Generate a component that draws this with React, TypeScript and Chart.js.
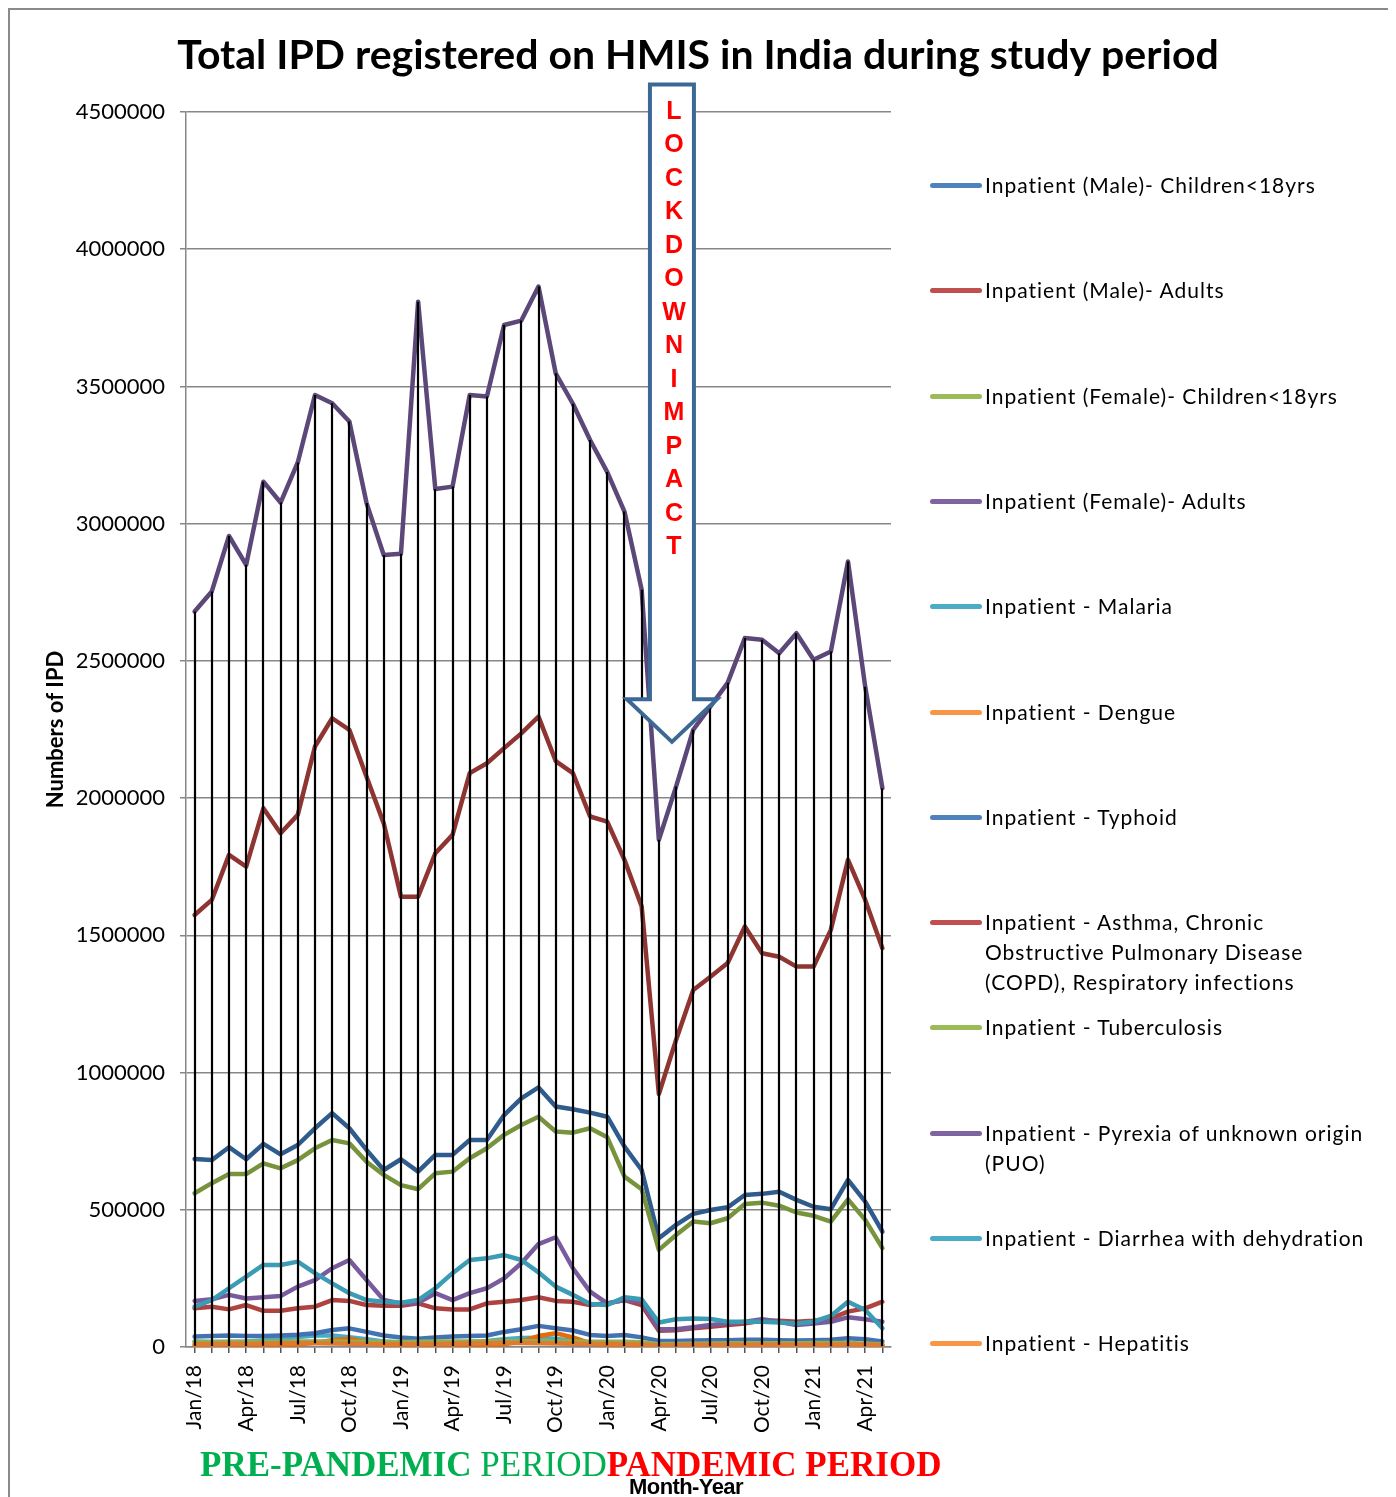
import React, { useEffect, useRef } from "react";
import { Chart, registerables } from "chart.js";

Chart.register(...registerables);

// ---------- DATA (values in thousands of IPD) ----------
const UNIT = 1000;

const months = [
  "Jan/18", "Feb/18", "Mar/18", "Apr/18", "May/18", "Jun/18", "Jul/18", "Aug/18", "Sep/18", "Oct/18", "Nov/18", "Dec/18",
  "Jan/19", "Feb/19", "Mar/19", "Apr/19", "May/19", "Jun/19", "Jul/19", "Aug/19", "Sep/19", "Oct/19", "Nov/19", "Dec/19",
  "Jan/20", "Feb/20", "Mar/20", "Apr/20", "May/20", "Jun/20", "Jul/20", "Aug/20", "Sep/20", "Oct/20", "Nov/20", "Dec/20",
  "Jan/21", "Feb/21", "Mar/21", "Apr/21", "May/21",
];

const maleChildren = [685, 681, 728, 684, 740, 702, 736, 797, 852, 797, 718, 645, 684, 639, 700, 700, 754, 754, 845, 906, 946,
  876, 866, 854, 839, 730, 645, 396, 445, 485, 499, 509, 554, 558, 566, 536, 511, 502, 609, 530, 420];
const maleAdults = [1574, 1629, 1793, 1750, 1963, 1872, 1939, 2188, 2291, 2249, 2078, 1908, 1641, 1641, 1799, 1866, 2091, 2127, 2182, 2236, 2297,
  2135, 2091, 1933, 1914, 1775, 1605, 922, 1119, 1301, 1349, 1399, 1532, 1435, 1422, 1386, 1386, 1520, 1775, 1629, 1453];
const femaleChildren = [560, 597, 630, 630, 669, 651, 681, 724, 754, 742, 675, 627, 590, 575, 633, 639, 688, 724, 773, 809, 839,
  785, 781, 797, 764, 621, 575, 354, 408, 457, 451, 469, 521, 526, 515, 490, 478, 457, 538, 463, 360];
const femaleAdults = [2680, 2753, 2955, 2850, 3153, 3077, 3223, 3469, 3439, 3372, 3075, 2886, 2890, 3809, 3126, 3135, 3469, 3463, 3724, 3740, 3864,
  3548, 3437, 3305, 3188, 3044, 2759, 1848, 2042, 2249, 2334, 2420, 2583, 2577, 2528, 2601, 2504, 2534, 2862, 2406, 2036];
const malaria = [20, 18, 18, 20, 24, 28, 36, 42, 42, 36, 28, 20, 16, 14, 14, 15, 18, 22, 28, 33, 34, 30, 22, 16,
  12, 11, 9, 5, 6, 8, 10, 12, 13, 12, 10, 8, 7, 6, 6, 5, 5];
const dengue = [5, 4, 4, 4, 5, 6, 9, 15, 25, 30, 18, 8, 5, 4, 4, 4, 5, 6, 10, 20, 40, 50, 35, 14,
  6, 4, 3, 2, 2, 2, 3, 4, 6, 9, 8, 5, 3, 3, 3, 3, 3];
const typhoid = [38, 40, 42, 40, 40, 42, 45, 50, 62, 68, 55, 42, 35, 30, 35, 38, 40, 42, 55, 65, 77,
  68, 60, 44, 40, 44, 35, 22, 22, 24, 25, 25, 26, 26, 25, 24, 25, 26, 32, 28, 20];
const asthmaCopd = [141, 147, 137, 153, 132, 132, 141, 147, 171, 168, 153, 150, 150, 159, 141, 137, 137, 159, 165, 171, 181,
  168, 165, 153, 159, 171, 153, 59, 61, 68, 74, 80, 86, 96, 96, 92, 96, 104, 129, 141, 165];
const tuberculosis = [18, 18, 19, 18, 19, 19, 20, 20, 20, 19, 19, 18, 18, 19, 20, 20, 20, 21, 21, 21, 21, 20, 20, 19,
  19, 19, 17, 10, 11, 12, 13, 14, 14, 14, 14, 14, 15, 15, 15, 12, 10];
const puo = [168, 174, 190, 177, 181, 186, 220, 244, 287, 317, 244, 171, 159, 161, 196, 171, 196, 214, 250, 305, 375,
  400, 287, 202, 159, 171, 165, 65, 65, 72, 80, 86, 92, 101, 92, 80, 86, 92, 108, 101, 92];
const diarrhea = [147, 171, 214, 256, 299, 299, 311, 269, 232, 196, 171, 165, 161, 171, 214, 269, 317, 323, 335, 317, 272,
  220, 190, 157, 153, 181, 174, 89, 101, 104, 102, 92, 92, 92, 89, 86, 92, 113, 165, 135, 68];
const hepatitis = [10, 10, 11, 11, 12, 13, 14, 14, 13, 12, 11, 10, 10, 10, 11, 12, 13, 14, 15, 15, 14, 13, 12, 11,
  11, 10, 9, 5, 6, 7, 8, 8, 8, 8, 8, 8, 8, 8, 9, 8, 6];

const seriesValues = [maleChildren, maleAdults, femaleChildren, femaleAdults, malaria, dengue, typhoid,
  asthmaCopd, tuberculosis, puo, diarrhea, hepatitis];

const seriesNames = [
  "Inpatient (Male)- Children<18yrs",
  "Inpatient (Male)- Adults",
  "Inpatient (Female)- Children<18yrs",
  "Inpatient (Female)- Adults",
  "Inpatient - Malaria",
  "Inpatient - Dengue",
  "Inpatient - Typhoid",
  "Inpatient - Asthma, Chronic Obstructive Pulmonary Disease (COPD), Respiratory infections",
  "Inpatient - Tuberculosis",
  "Inpatient - Pyrexia of unknown origin (PUO)",
  "Inpatient - Diarrhea with dehydration",
  "Inpatient - Hepatitis",
];

const legendLines = [
  ["Inpatient (Male)- Children<18yrs"],
  ["Inpatient (Male)- Adults"],
  ["Inpatient (Female)- Children<18yrs"],
  ["Inpatient (Female)- Adults"],
  ["Inpatient - Malaria"],
  ["Inpatient - Dengue"],
  ["Inpatient - Typhoid"],
  ["Inpatient - Asthma, Chronic", "Obstructive Pulmonary Disease", "(COPD), Respiratory infections"],
  ["Inpatient - Tuberculosis"],
  ["Inpatient - Pyrexia of unknown origin", "(PUO)"],
  ["Inpatient - Diarrhea with dehydration"],
  ["Inpatient - Hepatitis"],
];

const lineColors = ["#2F5C8D", "#8E3532", "#77933C", "#5C4779", "#4BACC6", "#E46C0A", "#4473B3",
  "#B0433F", "#8FB04F", "#7A5C9E", "#3A9DB5", "#E07A30"];
const legendColors = ["#4F81BD", "#C0504D", "#9BBB59", "#8064A2", "#4BACC6", "#F79646", "#4F81BD",
  "#C0504D", "#9BBB59", "#8064A2", "#4BACC6", "#F79646"];

const yTicks = { min: 0, max: 4500000, step: 500000 };
const labelEvery = 3;
const lockdownMonth = "Apr/20";
const lockdownText = "LOCKDOWNIMPACT";

const FONT = 'Lato, "Open Sans", sans-serif';

export default function App() {
  const ref = useRef<HTMLCanvasElement>(null);

  useEffect(() => {
    document.documentElement.style.overflow = "hidden";
    document.body.style.overflow = "hidden";
    const canvas = ref.current!;

    const dropLines = {
      id: "dropLines",
      afterDatasetsDraw(chart: any) {
        const { ctx } = chart;
        const x = chart.scales.x;
        const y = chart.scales.y;
        ctx.save();
        ctx.strokeStyle = "#000";
        ctx.lineWidth = 2.2;
        for (let i = 0; i < months.length; i++) {
          let hi = -Infinity;
          let lo = Infinity;
          chart.data.datasets.forEach((ds: any) => {
            const v = ds.data[i] as number;
            if (v > hi) hi = v;
            if (v < lo) lo = v;
          });
          const px = Math.round(x.getPixelForValue(i));
          ctx.beginPath();
          ctx.moveTo(px, y.getPixelForValue(hi));
          ctx.lineTo(px, y.getPixelForValue(lo));
          ctx.stroke();
        }
        ctx.restore();
      },
    };

    const lockdownArrow = {
      id: "lockdownArrow",
      afterDatasetsDraw(chart: any) {
        const { ctx } = chart;
        const x = chart.scales.x;
        const y = chart.scales.y;
        const idx = months.indexOf(lockdownMonth);
        const step = x.getPixelForValue(1) - x.getPixelForValue(0);
        const cx = x.getPixelForValue(idx) + 0.76 * step;
        const top = y.getPixelForValue(4600000);
        const base = y.getPixelForValue(2360000);
        const tip = y.getPixelForValue(2205000);
        const sw = 22;
        const hw = 45;
        ctx.save();
        ctx.beginPath();
        ctx.moveTo(cx - sw, top);
        ctx.lineTo(cx + sw, top);
        ctx.lineTo(cx + sw, base);
        ctx.lineTo(cx + hw, base);
        ctx.lineTo(cx, tip);
        ctx.lineTo(cx - hw, base);
        ctx.lineTo(cx - sw, base);
        ctx.closePath();
        ctx.fillStyle = "#fff";
        ctx.fill();
        ctx.lineWidth = 4;
        ctx.lineJoin = "miter";
        ctx.strokeStyle = "#3C6896";
        ctx.stroke();
        ctx.fillStyle = "#FF0000";
        ctx.font = 'bold 25px "Liberation Sans", Arial, sans-serif';
        ctx.textAlign = "center";
        ctx.textBaseline = "middle";
        const y0 = y.getPixelForValue(yTicks.max);
        lockdownText.split("").forEach((ch, k) => {
          ctx.fillText(ch, cx + 2, y0 + k * 33.5);
        });
        ctx.restore();
      },
    };

    const chart = new Chart(canvas, {
      type: "line",
      data: {
        labels: months,
        datasets: seriesValues.map((vals, i) => ({
          label: seriesNames[i],
          data: vals.map((v) => v * UNIT),
          borderColor: lineColors[i],
          backgroundColor: lineColors[i],
          borderWidth: 4.5,
          pointRadius: 0,
          tension: 0,
          borderCapStyle: "round",
          borderJoinStyle: "round",
          order: seriesValues.length - 1 - i,
          yAxisID: "y",
        })),
      },
      options: {
        responsive: false,
        animation: false,
        devicePixelRatio: 1,
        layout: { padding: 0 },
        plugins: {
          legend: { display: false },
          tooltip: { enabled: false },
          title: {
            display: true,
            text: "Total IPD registered on HMIS in India during study period",
            color: "#000",
            font: { family: FONT, weight: "bold", size: 41, lineHeight: 1.2 },
            padding: { top: 23, bottom: 31.8 },
          },
        },
        scales: {
          x: {
            type: "category",
            offset: true,
            grid: { drawOnChartArea: false, drawTicks: true, tickLength: 6, color: "#555", lineWidth: 1.5 },
            border: { display: true, color: "#878787", width: 1.5 },
            ticks: {
              autoSkip: false,
              maxRotation: 90,
              minRotation: 90,
              padding: 12,
              color: "#000",
              font: { family: FONT, size: 21 },
              callback: (_v: any, i: number) => (i % labelEvery === 0 ? months[i] : ""),
            },
            afterFit: (s: any) => {
              s.height = 150;
            },
          },
          y: {
            min: yTicks.min,
            max: yTicks.max,
            grid: { color: "#878787", lineWidth: 1.5, tickLength: 6 },
            border: { display: true, color: "#878787", width: 1.5 },
            ticks: {
              stepSize: yTicks.step,
              padding: 15,
              color: "#000",
              font: { family: FONT, size: 22 },
              callback: (v: any) => String(v),
            },
            title: {
              display: true,
              text: "Numbers of IPD",
              color: "#000",
              font: { family: FONT, weight: "bold", size: 22, lineHeight: 1.2 },
              padding: { top: 35, bottom: 0 },
            },
            afterFit: (s: any) => {
              s.width = 178;
            },
          },
          y2: {
            position: "right",
            display: true,
            grid: { display: false },
            border: { display: false },
            ticks: { display: false },
            afterFit: (s: any) => {
              s.width = 497;
            },
          },
        },
      },
      plugins: [dropLines, lockdownArrow],
    } as any);

    return () => chart.destroy();
  }, []);

  const legendTop = 162;
  const legendStep = 105.3;

  return (
    <div style={{ position: "relative", width: 1380, height: 1489, fontFamily: FONT, overflow: "hidden" }}>
      <canvas ref={ref} width={1380} height={1489} style={{ position: "absolute", left: 0, top: 0 }} />
      <div
        style={{
          position: "absolute",
          left: 0,
          top: 0,
          width: 1382,
          height: 1500,
          border: "2px solid #8a8a8a",
          boxSizing: "border-box",
          pointerEvents: "none",
        }}
      />
      {legendLines.map((lines, i) => (
        <div key={i} style={{ position: "absolute", left: 922, top: legendTop + legendStep * i }}>
          <div
            style={{
              position: "absolute",
              left: 0,
              top: 13,
              width: 52,
              height: 5,
              borderRadius: 3,
              background: legendColors[i],
            }}
          />
          <div
            style={{
              position: "absolute",
              left: 55,
              top: 0,
              whiteSpace: "nowrap",
              fontSize: 21,
              lineHeight: "30px",
              color: "#000",
              letterSpacing: "1px",
            }}
          >
            {lines.map((l, k) => (
              <div key={k}>{l}</div>
            ))}
          </div>
        </div>
      ))}
      <div
        style={{
          position: "absolute",
          left: 192,
          top: 1437,
          whiteSpace: "nowrap",
          fontFamily: '"Liberation Serif", "Times New Roman", serif',
          fontSize: 35,
          lineHeight: "40px",
        }}
      >
        <span style={{ color: "#00B050", fontWeight: "bold" }}>PRE-PANDEMIC</span>
        <span style={{ color: "#00B050" }}> PERIOD</span>
        <span style={{ color: "#FF0000", fontWeight: "bold" }}>PANDEMIC PERIOD</span>
      </div>
      <div
        style={{
          position: "absolute",
          left: 578,
          top: 1466,
          width: 200,
          textAlign: "center",
          fontFamily: '"Liberation Sans", Arial, sans-serif',
          fontWeight: "bold",
          fontSize: 22,
          lineHeight: "26px",
          color: "#000",
          letterSpacing: "-0.6px",
        }}
      >
        Month-Year
      </div>
    </div>
  );
}
